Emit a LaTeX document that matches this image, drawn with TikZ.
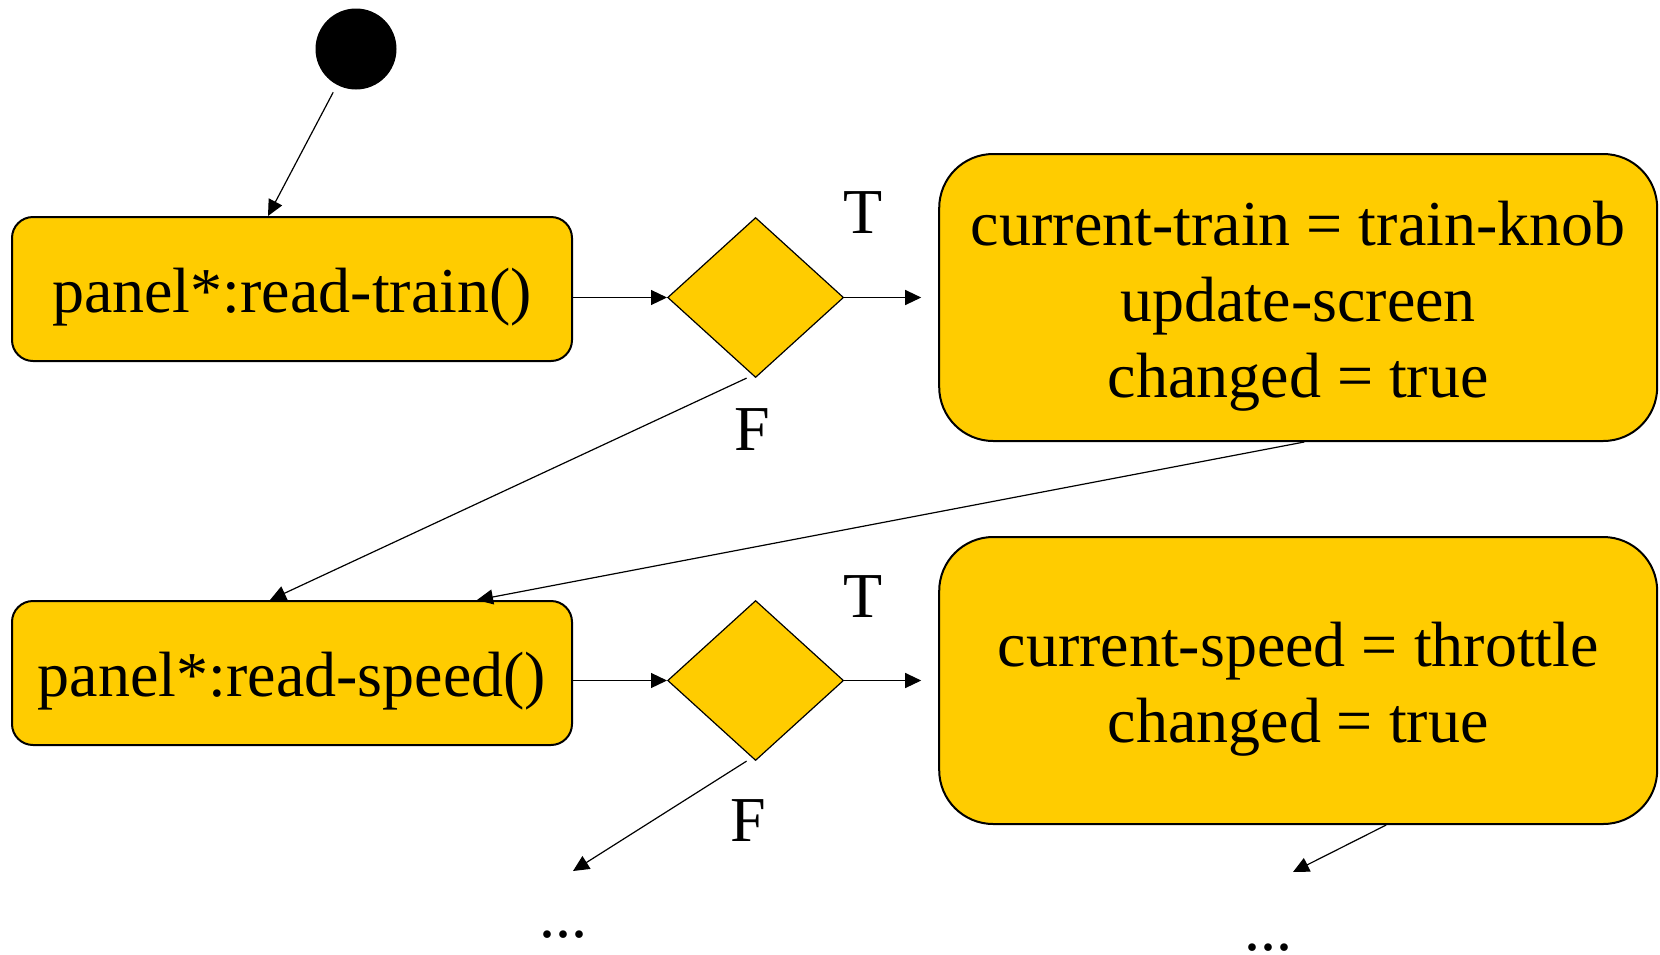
\documentclass[tikz,border=0pt]{standalone}
\usepackage{fontspec}
\setmainfont{Liberation Serif}
\usepackage{tikz}
\usetikzlibrary{positioning}
\usetikzlibrary{shapes.geometric}
\usetikzlibrary{arrows.meta}
\definecolor{actfill}{HTML}{FFCC00}
\newcommand{\slidefont}{\fontsize{32}{38}\selectfont}
\newcommand{\topgap}{\rule{0pt}{30.5pt}}
\tikzset{	node distance=47pt,
	action/.style={
		rectangle, rounded corners=10.5pt,
		draw, line width=1pt,
		fill=actfill,
		minimum width=280pt, minimum height=72pt,
		font=\slidefont,
		execute at begin node={\topgap}},
	result/.style={
		action, rounded corners=27pt,
		minimum width=359pt, minimum height=143.5pt,
		align=center},
	choice/.style={
		diamond, draw, line width=0.6pt,
		fill=actfill,
		minimum width=88pt, minimum height=80pt,
		inner sep=0pt},
	initstate/.style={
		circle, fill=black,
		minimum size=40.5pt, inner sep=0pt},
	lbl/.style={font=\slidefont, inner sep=0pt},
	every edge/.style={
		draw,
		-{Triangle[length=8pt,width=7.5pt]},
		line width=0.6pt}
}
\begin{document}
\begin{tikzpicture}[x=0.5pt, y=-0.5pt]
					\useasboundingbox (0,0) rectangle (1660,954);
					\node[initstate] (init) at (356,49) {};
					\node[action] (train) at (292,289) {panel*:read-train()};
					\node[choice, right=of train, yshift=-4.25pt] (ctrain) {};
					\node[result, right=of ctrain] (settrain) {\topgap current-train = train-knob\\update-screen\\changed = true};
					\node[action] (speed) at (292,673) {panel*:read-speed()};
					\node[choice, right=of speed, yshift=-3.75pt] (cspeed) {};
					\node[result, right=of cspeed] (setspeed) {\topgap current-speed = throttle\\changed = true};
					% branch labels
					\node[lbl, anchor=base] (ttrain) at (863,233) {T};
					\node[lbl, anchor=base] (ftrain) at (752,450) {F};
					\node[lbl, anchor=base] (tspeed) at (863,617) {T};
					\node[lbl, anchor=base] (fspeed) at (748,841) {F};
					\node[lbl, anchor=base] (moref) at (563,937) {...};
					\node[lbl, anchor=base] (moret) at (1268,950) {...};
					\coordinate (endf) at (573,871);
					\coordinate (endt) at (1293,872);
					% flow
					\draw (init) edge[shorten <=4pt] ([xshift=-12pt]train.north);
					\draw (train.east |- ctrain) edge (ctrain);
					\draw (ctrain) edge[shorten >=8.5pt] (settrain);
					\draw ([xshift=-4.5pt]ctrain.south) edge ([xshift=-11pt]speed.north);
					\draw ([xshift=3pt]settrain.south) edge ([xshift=92.5pt]speed.north);
					\draw (speed.east |- cspeed) edge (cspeed);
					\draw (cspeed) edge[shorten >=8.5pt] (setspeed);
					\draw ([xshift=-4.5pt]cspeed.south) edge (endf);
					\draw ([xshift=44pt]setspeed.south) edge (endt);
				\end{tikzpicture}
\end{document}
